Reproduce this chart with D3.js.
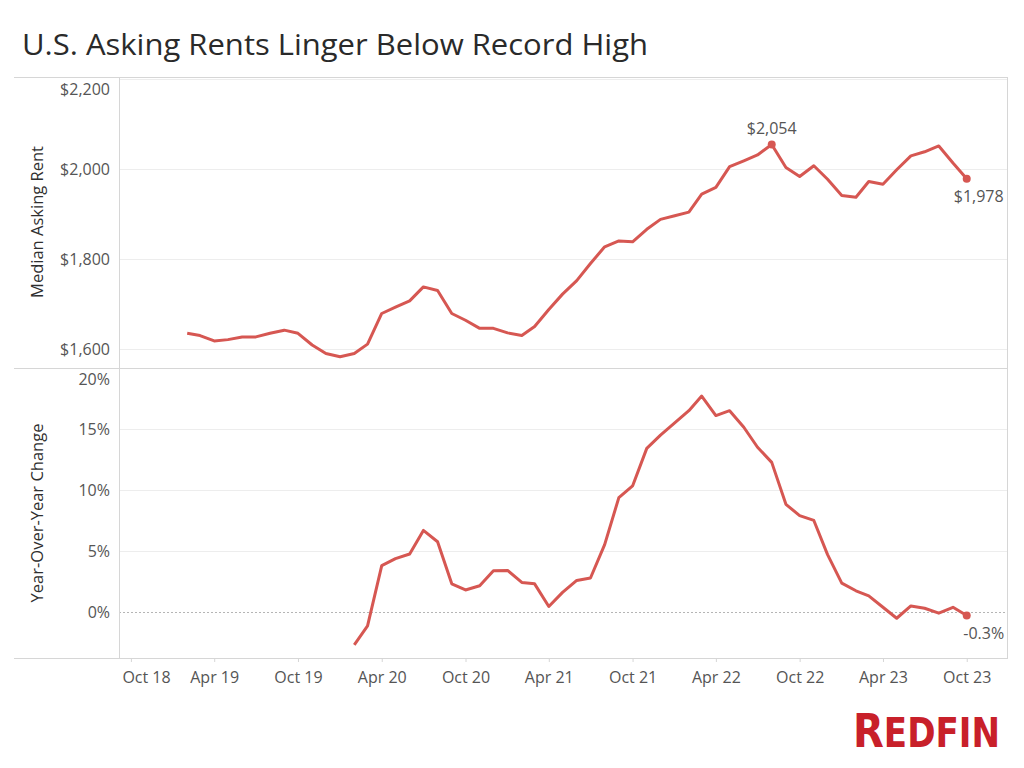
<!DOCTYPE html>
<html>
<head>
<meta charset="utf-8">
<script src="https://cdn.jsdelivr.net/npm/d3@7"></script>
<style>
  body { margin: 0; background: #fff; }
  svg { display: block; font-family: 'Open Sans', Lato, sans-serif; }
</style>
</head>
<body>
<div id="chart"></div>
<script>
// monthly series, Feb 2019 .. Oct 2023
const rentStart = new Date(2019, 1, 1);
const rent = [
  1635, 1630, 1618, 1621, 1627, 1627, 1635, 1642, 1635, 1609, 1590,
  1583, 1590, 1611, 1679, 1693, 1707, 1738, 1730, 1679, 1664, 1646, 1646,
  1636, 1630, 1650, 1688, 1722, 1752, 1790, 1827, 1840, 1838, 1866, 1888,
  1896, 1904, 1944, 1959, 2005, 2018, 2031, 2054, 2003, 1983, 2007, 1977,
  1941, 1937, 1972, 1966, 1998, 2029, 2038, 2051, 2013, 1978
];

// year-over-year change (%), Feb 2020 .. Oct 2023
const yoyStart = new Date(2020, 1, 1);
const yoy = [
  -2.7, -1.15, 3.8, 4.37, 4.75, 6.68, 5.75, 2.3, 1.8, 2.14, 3.38,
  3.4, 2.42, 2.3, 0.44, 1.6, 2.58, 2.78, 5.52, 9.37, 10.33, 13.41, 14.5,
  15.5, 16.5, 17.7, 16.1, 16.5, 15.14, 13.5, 12.26, 8.82, 7.9, 7.5, 4.7,
  2.36, 1.73, 1.32, 0.38, -0.52, 0.49, 0.3, -0.1, 0.38, -0.3
];

const xTicks = ['2018-10', '2019-04', '2019-10', '2020-04', '2020-10', '2021-04',
  '2021-10', '2022-04', '2022-10', '2023-04', '2023-10'];
const rentTicks = [1600, 1800, 2000, 2200];
const yoyTicks = [0, 5, 10, 15, 20];

const title = 'U.S. Asking Rents Linger Below Record High';

// layout
const W = 1024, H = 768;
const left = 119, right = 1007, frameLeft = 14;
const top1 = 77, mid = 368, bot = 658;
const red = '#d65752';
const labelColor = '#555';
const labelSize = '16px';

const monthly = (start, vals) => vals.map((v, i) => ({date: d3.timeMonth.offset(start, i), value: v}));
const rentData = monthly(rentStart, rent);
const yoyData = monthly(yoyStart, yoy);
const parseMonth = d3.timeParse('%Y-%m');

const x = d3.scaleTime()
  .domain([new Date(2018, 8, 5), new Date(2023, 11, 28)])
  .range([left, right]);
const yRent = d3.scaleLinear().domain([1558, 2204]).range([mid, top1]);
const yYoy = d3.scaleLinear().domain([-3.78, 20]).range([bot, mid]);

const svg = d3.select('#chart').append('svg')
  .attr('width', W)
  .attr('height', H);

// title
svg.append('text')
  .attr('x', 22)
  .attr('y', 55)
  .attr('textLength', 626)
  .attr('lengthAdjust', 'spacingAndGlyphs')
  .style('font-size', '29px')
  .style('fill', '#2a2a2a')
  .text(title);

// gridlines
function grid(scale, ticks) {
  svg.append('g').selectAll('line')
    .data(ticks)
    .join('line')
    .attr('x1', left).attr('x2', right)
    .attr('y1', d => Math.round(scale(d)) + 0.5)
    .attr('y2', d => Math.round(scale(d)) + 0.5)
    .style('stroke', '#ededed');
}
grid(yRent, rentTicks);
grid(yYoy, yoyTicks.filter(d => d !== 0));

// zero line
svg.append('line')
  .attr('x1', left).attr('x2', right)
  .attr('y1', Math.round(yYoy(0)) + 0.5)
  .attr('y2', Math.round(yYoy(0)) + 0.5)
  .style('stroke', '#b5b5b5')
  .style('stroke-dasharray', '2,2');

// frame
const frame = svg.append('g').style('stroke', '#d6d6d6').style('fill', 'none');
[top1, mid, bot].forEach(y => {
  frame.append('line')
    .attr('x1', frameLeft).attr('x2', right)
    .attr('y1', y + 0.5).attr('y2', y + 0.5);
});
frame.append('line')
  .attr('x1', left + 0.5).attr('x2', left + 0.5)
  .attr('y1', top1).attr('y2', bot);
frame.append('line')
  .attr('x1', right + 0.5).attr('x2', right + 0.5)
  .attr('y1', top1).attr('y2', bot + 1);

// y axes
function yAxis(scale, ticks, fmt, panelTop) {
  const g = svg.append('g')
    .attr('transform', `translate(${left - 9},0)`)
    .call(d3.axisLeft(scale).tickValues(ticks).tickFormat(fmt).tickSize(0).tickPadding(0));
  g.select('.domain').remove();
  g.selectAll('text')
    .style('font-size', labelSize)
    .style('font-family', "'Open Sans', sans-serif")
    .style('fill', labelColor)
    .attr('dy', d => (scale(d) - 8 < panelTop ? '1.0em' : '0.32em'));
}
yAxis(yRent, rentTicks, d => '$' + d3.format(',')(d), top1);
yAxis(yYoy, yoyTicks, d => d + '%', mid);

// axis titles
function yTitle(text, cy) {
  svg.append('text')
    .attr('transform', `translate(43,${cy}) rotate(-90)`)
    .attr('text-anchor', 'middle')
    .style('font-size', '16.5px')
    .style('fill', '#2f2f2f')
    .text(text);
}
yTitle('Median Asking Rent', 222);
yTitle('Year-Over-Year Change', 513);

// x axis
const xg = svg.append('g')
  .attr('transform', `translate(0,${bot})`)
  .call(d3.axisBottom(x)
    .tickValues(xTicks.map(parseMonth))
    .tickFormat(d3.timeFormat('%b %y'))
    .tickSize(4)
    .tickPadding(10));
xg.select('.domain').remove();
xg.selectAll('line').style('stroke', '#d6d6d6');
xg.selectAll('text')
  .style('font-size', labelSize)
  .style('font-family', "'Open Sans', sans-serif")
  .style('fill', labelColor);
// first label pushed inside the pane
xg.select('.tick text').attr('text-anchor', 'start').attr('x', -9);

// lines
const line = y => d3.line().x(d => x(d.date)).y(d => y(d.value));
svg.append('path')
  .datum(rentData)
  .attr('d', line(yRent))
  .style('fill', 'none')
  .style('stroke', red)
  .style('stroke-width', '3px')
  .style('stroke-linejoin', 'round');
svg.append('path')
  .datum(yoyData)
  .attr('d', line(yYoy))
  .style('fill', 'none')
  .style('stroke', red)
  .style('stroke-width', '3px')
  .style('stroke-linejoin', 'round');

// marked points
const peak = rentData.reduce((a, b) => (b.value > a.value ? b : a));
const lastRent = rentData[rentData.length - 1];
const lastYoy = yoyData[yoyData.length - 1];
const marks = [
  {d: peak, y: yRent, label: '$' + d3.format(',')(peak.value), dx: 0, dy: -11},
  {d: lastRent, y: yRent, label: '$' + d3.format(',')(lastRent.value), dx: 12, dy: 23},
  {d: lastYoy, y: yYoy, label: lastYoy.value + '%', dx: 17, dy: 23}
];
const mg = svg.append('g').selectAll('g')
  .data(marks)
  .join('g')
  .attr('transform', m => `translate(${x(m.d.date)},${m.y(m.d.value)})`);
mg.append('circle')
  .attr('r', 4)
  .style('fill', red);
mg.append('text')
  .attr('x', m => m.dx)
  .attr('y', m => m.dy)
  .attr('text-anchor', 'middle')
  .style('font-size', labelSize)
  .style('fill', labelColor)
  .text(m => m.label);

// logo
const logo = svg.append('text')
  .attr('x', 853)
  .attr('y', 747)
  .attr('textLength', 147)
  .attr('lengthAdjust', 'spacingAndGlyphs')
  .style('font-family', "'Liberation Sans Narrow', 'DejaVu Sans Condensed', sans-serif")
  .style('font-weight', 'bold')
  .style('fill', '#c8202a');
logo.append('tspan').style('font-size', '47px').text('R');
logo.append('tspan').style('font-size', '40px').text('EDFIN');
</script>
</body>
</html>
